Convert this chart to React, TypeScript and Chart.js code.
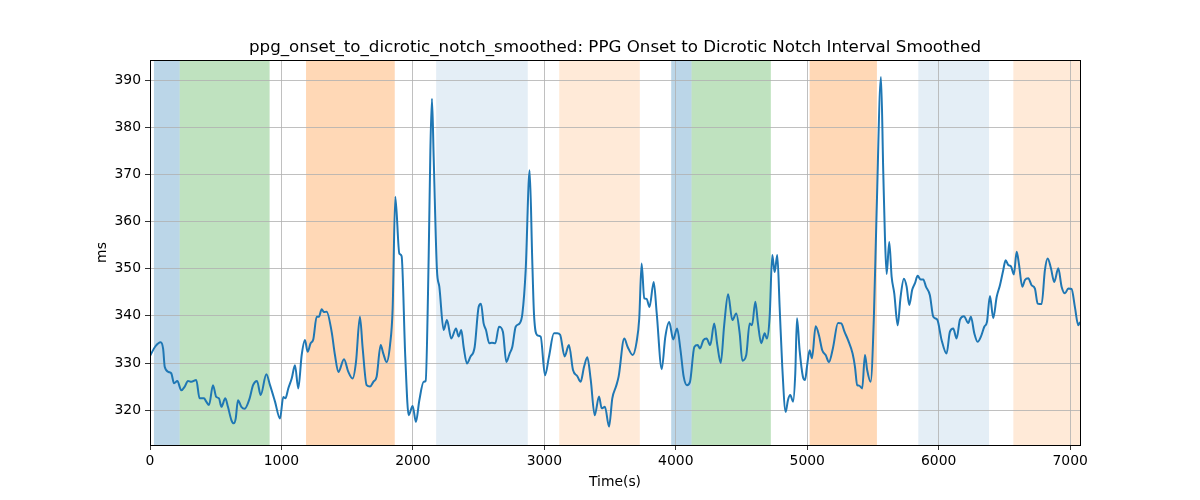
import React, { useEffect, useRef } from "react";
import { Chart, registerables } from "chart.js";

Chart.register(...registerables);

const TITLE = "ppg_onset_to_dicrotic_notch_smoothed: PPG Onset to Dicrotic Notch Interval Smoothed";
const X_LABEL = "Time(s)";
const Y_LABEL = "ms";

const xTicks = [0, 1000, 2000, 3000, 4000, 5000, 6000, 7000];
const yTicks = [320, 330, 340, 350, 360, 370, 380, 390];
const xMin = 0;
const xMax = 7075;
const yMin = 312.6;
const yMax = 394.3;

const bandStarts = [30, 226, 1187, 2177, 3113, 3965, 4120, 5018, 5845, 6568];
const bandEnds = [226, 910, 1862, 2874, 3726, 4120, 4723, 5530, 6383, 7075];
const bandColors = [
  "rgba(31,119,180,0.3)",
  "rgba(44,160,44,0.3)",
  "rgba(255,127,14,0.3)",
  "rgba(31,119,180,0.12)",
  "rgba(255,127,14,0.16)",
  "rgba(31,119,180,0.3)",
  "rgba(44,160,44,0.3)",
  "rgba(255,127,14,0.3)",
  "rgba(31,119,180,0.12)",
  "rgba(255,127,14,0.16)",
];

const times = [
  0, 40, 81, 100, 112, 142, 162, 183, 208, 238, 264, 289, 314, 352, 377, 411, 428, 449, 479, 504,
  525, 543, 573, 593, 619, 637, 652, 669, 695, 720, 758, 784, 814, 842, 885, 913, 951, 989, 1014, 1030,
  1052, 1078, 1103, 1128, 1154, 1179, 1199, 1222, 1242, 1268, 1285, 1306, 1324, 1344, 1382, 1407, 1433, 1476, 1509, 1541,
  1567, 1597, 1618, 1648, 1674, 1699, 1724, 1755, 1775, 1800, 1826, 1846, 1866, 1897, 1914, 1942, 1968, 1998, 2023, 2049,
  2082, 2097, 2120, 2133, 2145, 2158, 2183, 2201, 2234, 2259, 2292, 2328, 2348, 2368, 2386, 2411, 2437, 2470, 2500, 2518,
  2538, 2556, 2581, 2601, 2627, 2655, 2685, 2711, 2736, 2756, 2782, 2812, 2833, 2858, 2888, 2908, 2921, 2946, 2972, 3005,
  3035, 3073, 3098, 3120, 3154, 3187, 3218, 3251, 3276, 3302, 3327, 3353, 3383, 3416, 3436, 3461, 3492, 3517, 3545, 3565,
  3608, 3634, 3672, 3702, 3722, 3740, 3760, 3778, 3800, 3832, 3855, 3893, 3920, 3950, 3980, 4010, 4036, 4060, 4085, 4108,
  4141, 4166, 4184, 4209, 4234, 4262, 4292, 4316, 4342, 4368, 4398, 4430, 4460, 4486, 4506, 4536, 4562, 4580, 4605, 4625,
  4650, 4676, 4693, 4714, 4734, 4752, 4772, 4790, 4810, 4836, 4853, 4871, 4892, 4909, 4922, 4942, 4967, 4983, 4998, 5018,
  5036, 5064, 5089, 5114, 5140, 5165, 5195, 5234, 5259, 5284, 5310, 5345, 5363, 5380, 5395, 5418, 5439, 5456, 5482, 5507,
  5528, 5561, 5578, 5591, 5604, 5624, 5642, 5662, 5688, 5710, 5735, 5756, 5776, 5799, 5819, 5840, 5863, 5883, 5903, 5933,
  5959, 5989, 6022, 6060, 6085, 6111, 6136, 6162, 6192, 6225, 6245, 6271, 6296, 6321, 6347, 6367, 6390, 6415, 6441, 6466,
  6491, 6509, 6529, 6550, 6572, 6593, 6610, 6636, 6656, 6681, 6707, 6732, 6753, 6783, 6808, 6829, 6854, 6879, 6910, 6935,
  6961, 6986, 7011, 7036, 7062, 7075,
];

const values = [
  331.5, 333.5, 334.4, 333.0, 329.2, 328.1, 327.8, 325.7, 326.2, 324.2, 325.0, 326.2, 326.0, 326.4, 322.5, 322.5, 321.8, 321.1, 325.3, 322.8,
  322.5, 320.7, 322.5, 320.7, 317.9, 317.2, 318.2, 322.1, 320.7, 320.3, 322.5, 325.3, 326.2, 323.2, 327.6, 325.3, 321.8, 318.2, 322.8, 322.5,
  324.6, 326.7, 329.5, 324.6, 331.7, 334.9, 332.4, 334.2, 335.0, 339.8, 339.8, 341.4, 340.8, 340.9, 336.6, 331.7, 328.1, 330.8, 328.1, 326.7,
  330.2, 339.8, 333.1, 325.3, 325.0, 326.0, 327.1, 333.8, 332.0, 330.2, 333.8, 341.6, 365.3, 353.2, 352.7, 331.3, 318.9, 320.9, 317.5, 322.1,
  326.0, 326.2, 352.5, 375.2, 386.1, 373.7, 349.7, 346.2, 337.0, 339.1, 335.2, 337.3, 335.6, 337.0, 333.4, 329.9, 331.3, 333.4, 341.9, 342.6,
  338.4, 337.0, 334.2, 334.3, 334.2, 337.7, 336.6, 330.2, 332.0, 333.4, 337.7, 338.4, 340.5, 349.7, 370.9, 351.8, 340.5, 335.9, 335.6, 327.4,
  331.3, 336.3, 336.3, 336.0, 331.4, 333.8, 328.5, 327.2, 326.0, 329.2, 331.2, 326.4, 318.9, 322.9, 320.4, 320.7, 316.5, 322.5, 325.0, 327.1,
  335.2, 333.4, 331.7, 334.5, 339.5, 351.1, 343.7, 343.6, 341.9, 347.2, 340.5, 328.7, 335.5, 338.7, 335.0, 337.3, 332.7, 327.1, 325.3, 326.0,
  333.4, 333.8, 333.1, 334.8, 335.2, 333.8, 338.4, 333.8, 330.0, 338.0, 344.6, 339.1, 340.5, 336.3, 330.5, 331.7, 338.4, 338.0, 343.0, 338.4,
  334.2, 336.3, 335.2, 339.8, 352.9, 349.3, 352.9, 341.9, 329.2, 319.6, 322.1, 323.2, 321.8, 327.8, 339.5, 332.7, 327.1, 326.4, 329.2, 332.7,
  331.0, 337.8, 335.9, 332.7, 331.7, 330.2, 333.1, 338.5, 338.4, 336.6, 334.9, 332.0, 329.2, 325.3, 325.2, 324.6, 331.7, 328.5, 326.0, 339.8,
  362.4, 390.7, 370.9, 356.8, 348.9, 355.7, 348.3, 344.8, 338.0, 344.0, 347.9, 346.2, 342.3, 345.6, 346.9, 348.5, 347.7, 347.7, 346.2, 344.4,
  339.8, 339.2, 334.9, 332.0, 336.6, 337.3, 335.2, 339.2, 339.9, 338.5, 339.8, 336.3, 334.5, 335.6, 337.7, 338.7, 344.2, 339.5, 344.0, 346.5,
  349.7, 351.8, 350.8, 350.5, 348.8, 353.6, 351.1, 346.2, 347.6, 348.0, 346.5, 345.8, 342.6, 342.5, 349.7, 352.2, 350.1, 347.2, 350.1, 346.2,
  344.8, 345.8, 345.7, 341.9, 338.0, 338.7,
];

const FONT = "'DejaVu Sans', sans-serif";

export default function App() {
  const canvasRef = useRef<HTMLCanvasElement | null>(null);

  useEffect(() => {
    document.body.style.margin = "0";
    const canvas = canvasRef.current;
    if (!canvas) return;

    const bandsPlugin = {
      id: "bands",
      beforeDraw(chart: any) {
        const { ctx, chartArea, scales } = chart;
        const xs = scales.x;
        ctx.save();
        ctx.fillStyle = "#ffffff";
        ctx.fillRect(0, 0, chart.width, chart.height);
        for (let i = 0; i < bandStarts.length; i++) {
          const x0 = xs.getPixelForValue(bandStarts[i]);
          const x1 = Math.min(xs.getPixelForValue(bandEnds[i]), chartArea.right);
          ctx.fillStyle = bandColors[i];
          ctx.fillRect(x0, chartArea.top, x1 - x0, chartArea.bottom - chartArea.top);
        }
        ctx.restore();
      },
      afterDraw(chart: any) {
        const { ctx, chartArea } = chart;
        ctx.save();
        ctx.strokeStyle = "#000000";
        ctx.lineWidth = 1;
        ctx.strokeRect(
          Math.round(chartArea.left) + 0.5,
          Math.round(chartArea.top) + 0.5,
          Math.round(chartArea.right - chartArea.left),
          Math.round(chartArea.bottom - chartArea.top)
        );
        ctx.fillStyle = "#000000";
        ctx.textAlign = "center";
        ctx.textBaseline = "alphabetic";
        ctx.font = `16.7px ${FONT}`;
        ctx.fillText(TITLE, (chartArea.left + chartArea.right) / 2, 52);
        ctx.font = `13.9px ${FONT}`;
        ctx.fillText(X_LABEL, (chartArea.left + chartArea.right) / 2, 486);
        ctx.translate(106, (chartArea.top + chartArea.bottom) / 2);
        ctx.rotate(-Math.PI / 2);
        ctx.fillText(Y_LABEL, 0, 0);
        ctx.restore();
      },
    };

    const chart = new Chart(canvas, {
      type: "line",
      data: {
        datasets: [
          {
            data: times.map((t, i) => ({ x: t, y: values[i] })),
            borderColor: "#1f77b4",
            borderWidth: 2,
            pointRadius: 0,
            tension: 0.3,
            cubicInterpolationMode: "monotone",
            fill: false,
          },
        ],
      },
      options: {
        animation: false,
        responsive: false,
        devicePixelRatio: 1,
        layout: { padding: { left: 0, right: 120, top: 60, bottom: 0 } },
        plugins: { legend: { display: false }, title: { display: false }, tooltip: { enabled: false } },
        scales: {
          x: {
            type: "linear",
            min: xMin,
            max: xMax,
            afterBuildTicks: (s: any) => {
              s.ticks = xTicks.map((v) => ({ value: v }));
            },
            afterFit: (s: any) => {
              s.height = 55;
            },
            grid: { color: "#b0b0b0", lineWidth: 0.8, tickColor: "#000000", tickLength: 5, drawTicks: true },
            border: { display: false },
            ticks: {
              color: "#000000",
              font: { family: FONT, size: 13.9 },
              padding: 3,
              maxRotation: 0,
              autoSkip: false,
              callback: (v: any) => String(v),
            },
          },
          y: {
            type: "linear",
            min: yMin,
            max: yMax,
            afterBuildTicks: (s: any) => {
              s.ticks = yTicks.map((v) => ({ value: v }));
            },
            afterFit: (s: any) => {
              s.width = 150;
            },
            grid: { color: "#b0b0b0", lineWidth: 0.8, tickColor: "#000000", tickLength: 5, drawTicks: true },
            border: { display: false },
            ticks: {
              color: "#000000",
              font: { family: FONT, size: 13.9 },
              padding: 4,
              autoSkip: false,
              callback: (v: any) => String(v),
            },
          },
        },
      },
      plugins: [bandsPlugin],
    } as any);

    return () => chart.destroy();
  }, []);

  return (
    <div style={{ position: "absolute", left: 0, top: 0, width: 1200, height: 500 }}>
      <canvas ref={canvasRef} width={1200} height={500} style={{ width: 1200, height: 500 }} />
    </div>
  );
}
